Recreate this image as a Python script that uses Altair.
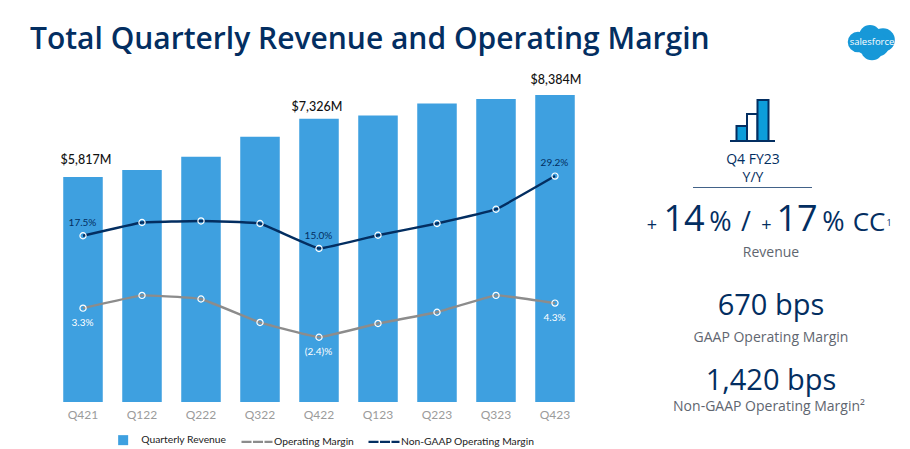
import altair as alt
import pandas as pd

quarters = ["Q421", "Q122", "Q222", "Q322", "Q422", "Q123", "Q223", "Q323", "Q423"]
revenue = [5817, 6001, 6341, 6858, 7326, 7411, 7720, 7837, 8384]
gaap = [3.3, 5.8, 5.1, 0.5, -2.4, 0.3, 2.5, 5.8, 4.3]
non_gaap = [17.5, 20.1, 20.4, 19.9, 15.0, 17.6, 19.9, 22.7, 29.2]
gaap_labels = ["3.3%", "", "", "", "(2.4)%", "", "", "", "4.3%"]
non_gaap_labels = ["17.5%", "", "", "", "15.0%", "", "", "", "29.2%"]
revenue_labels = ["$5,817M", "", "", "", "$7,326M", "", "", "", "$8,384M"]

NAVY = "#032e61"
BLUE = "#3ea0e0"
GREY = "#8c8c8c"
MUTED = "#5f6670"
SANS = "Open Sans"
LATO = "Lato"
LEFT, TOP, W, H = 53.5, 95, 531, 307

x_enc = alt.X("q:N", sort=quarters, title=None,
              scale=alt.Scale(paddingInner=0.33, paddingOuter=0.165),
              axis=alt.Axis(domain=False, ticks=False, labelAngle=0, labelFont=LATO,
                            labelFontSize=12, labelColor="#9b9b9b", labelPadding=7))
rev_y = alt.Y("rev:Q", axis=None, scale=alt.Scale(domain=[0, 7940], clamp=True, nice=False, zero=False))
pct_y = alt.Y("pct:Q", axis=None, scale=alt.Scale(domain=[-15.1, 45.1], nice=False, zero=False))

bars_df = pd.DataFrame({"q": quarters, "rev": revenue, "label": revenue_labels,
                        "series": "Quarterly Revenue"})
line_df = pd.concat([
    pd.DataFrame({"q": quarters, "pct": gaap, "label": gaap_labels, "series": "Operating Margin"}),
    pd.DataFrame({"q": quarters, "pct": non_gaap, "label": non_gaap_labels, "series": "Non-GAAP Operating Margin"}),
])

bars = alt.Chart(bars_df).mark_bar(opacity=1).encode(
    x=x_enc, y=rev_y,
    fill=alt.Fill("series:N", scale=alt.Scale(domain=["Quarterly Revenue"], range=[BLUE]),
                  legend=alt.Legend(title=None, orient="none", legendX=118 - LEFT, legendY=435 - TOP,
                                    symbolType="square", symbolSize=100, symbolStrokeWidth=0,
                                    labelFont=LATO, labelFontSize=10.3, labelColor="#222222", labelOffset=13)),
)

lines = alt.Chart(line_df).mark_line(interpolate="cardinal", tension=0.75, strokeWidth=2.4).encode(
    x=x_enc, y=pct_y,
    stroke=alt.Stroke("series:N",
                      scale=alt.Scale(domain=["Operating Margin", "Non-GAAP Operating Margin"], range=[GREY, NAVY]),
                      legend=alt.Legend(title=None, orient="none", legendX=240 - LEFT, legendY=424.5 - TOP,
                                        columns=2, symbolType="stroke", symbolSize=961, symbolStrokeWidth=2.4,
                                        symbolDash=[10, 1.5], columnPadding=9,
                                        labelFont=LATO, labelFontSize=10.3, labelColor="#222222", labelOffset=0)),
    detail="series:N",
)

points = alt.Chart(line_df).mark_point(filled=False, size=38, stroke="white", strokeWidth=1.2, opacity=1).encode(
    x=x_enc, y=pct_y, detail="series:N",
)


def pct_labels(series, color, dy):
    return alt.Chart(line_df[(line_df.series == series) & (line_df.label != "")]).mark_text(
        font=LATO, fontSize=10, color=color, dy=dy, dx=-0.5,
    ).encode(x=x_enc, y=pct_y, text="label:N")


def rev_label(i, dx, dy):
    return alt.Chart(bars_df.iloc[[i]]).mark_text(
        font=LATO, fontSize=12.5, fontWeight=500, color="#111111", dx=dx, dy=dy,
    ).encode(x=x_enc, y=rev_y, text="label:N")


def note(text, x, y, size, color=NAVY, align="center", weight=400, font=SANS):
    return alt.Chart(alt.Data(values=[{"t": text}])).mark_text(
        font=font, fontSize=size, color=color, align=align, baseline="alphabetic", fontWeight=weight,
    ).encode(text="t:N", x=alt.value(x - LEFT), y=alt.value(y - TOP))


def box(x1, x2, y1, y2, fill, stroke=None):
    kw = {"stroke": stroke, "strokeWidth": 2} if stroke else {}
    return alt.Chart(alt.Data(values=[{"a": 1}])).mark_rect(fill=fill, **kw).encode(
        x=alt.value(x1 - LEFT), x2=alt.value(x2 - LEFT), y=alt.value(y1 - TOP), y2=alt.value(y2 - TOP))


def blob(x, y, size):
    return alt.Chart(alt.Data(values=[{"a": 1}])).mark_circle(size=size, color="#1798d8", opacity=1).encode(
        x=alt.value(x - LEFT), y=alt.value(y - TOP))


decor = [
    note("Total Quarterly Revenue and Operating Margin", 30, 49, 30, align="left", weight=600),
    blob(858, 42, 420), blob(870, 36, 480), blob(883, 40, 560), blob(872, 49, 500), blob(866, 43, 500), blob(878, 45, 500),
    note("salesforce", 872, 45, 9.5, color="white"),
    box(736.5, 747, 126, 141, "#0d9dda", NAVY),
    box(747, 757.5, 114, 141, "white", NAVY),
    box(757.5, 768.5, 100, 141, "#0d9dda", NAVY),
    box(730, 775, 140, 142, NAVY),
    note("Q4 FY23", 753, 164, 14),
    note("Y/Y", 753, 182, 14),
    box(693, 812, 187, 187.8, NAVY),
    note("+", 652, 231, 18),
    note("14", 684, 231, 36),
    note("%", 720.5, 231, 27),
    note("/", 746, 231, 27),
    note("+", 766.5, 231, 18),
    note("17", 797, 231, 36),
    note("%", 833.5, 231, 27),
    note("CC", 869, 231, 26),
    note("1", 889, 226, 9),
    note("Revenue", 771, 257, 14, color=MUTED),
    note("670 bps", 771, 315, 29),
    note("GAAP Operating Margin", 771, 342, 14, color=MUTED),
    note("1,420 bps", 771, 390, 29),
    note("Non-GAAP Operating Margin\u00b2", 769, 411, 14, color=MUTED),
]

chart = alt.layer(
    bars, lines, points,
    pct_labels("Non-GAAP Operating Margin", NAVY, -13),
    pct_labels("Operating Margin", "white", 15),
    rev_label(0, 3, -17), rev_label(4, -2, -12), rev_label(8, 1, -15),
    *decor,
).resolve_scale(y="independent").properties(
    width=W, height=H,
    autosize=alt.AutoSizeParams(type="none"),
    padding={"left": LEFT - 8, "top": TOP - 8, "right": 894 - W - (LEFT - 8), "bottom": 45},
).configure_view(stroke=None)

chart.save("out.html", embed_options={"renderer": "svg", "actions": False})
